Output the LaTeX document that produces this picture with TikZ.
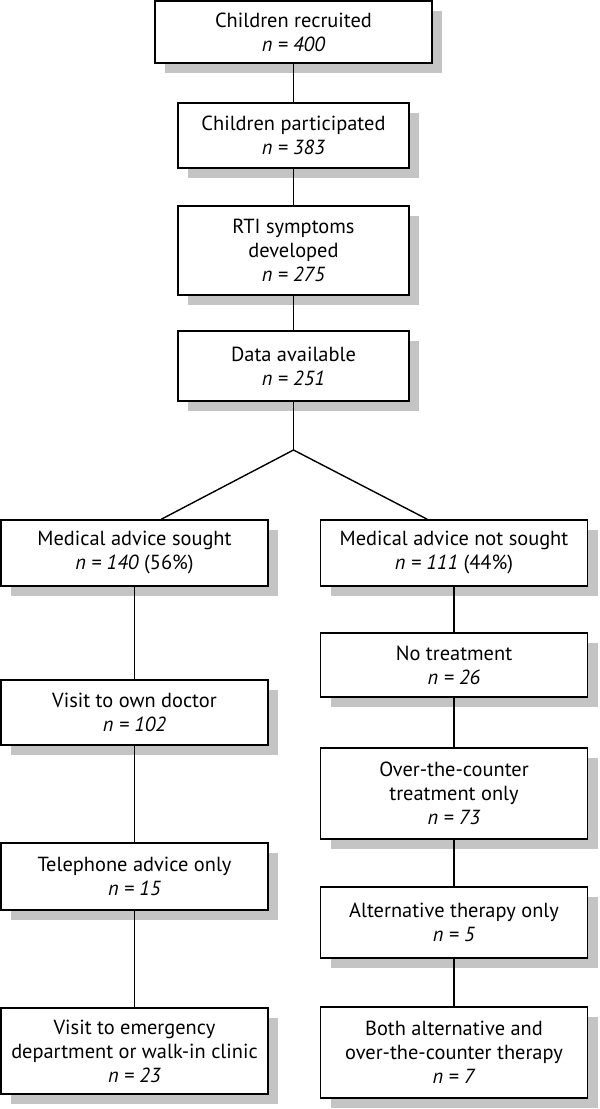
\documentclass[tikz,border=0pt]{standalone}
\usepackage{fontspec}
\setmainfont{PT Sans}
\usepackage{tikz}
\usetikzlibrary{positioning,calc,shadows}
\definecolor{shadowgrey}{RGB}{196,196,196}

\tikzset{
  flowbox/.style={draw,line width=0.8pt,fill=white,align=center,inner sep=2pt,
    font=\fontsize{10.2}{12}\selectfont,
    drop shadow={shadow xshift=5pt,shadow yshift=-5pt,fill=shadowgrey,opacity=1}},
  midbox/.style={flowbox,minimum width=115.5pt},
  sidebox/.style={flowbox,minimum width=133.5pt},
  link/.style={line width=0.7pt}
}

\begin{document}
\begin{tikzpicture}[x=0.5pt,y=-0.5pt]
  \useasboundingbox (0,0) rectangle (600,1109);

  % Main trunk: recruitment down to available data.
  \node[flowbox,minimum width=138.5pt,minimum height=31pt] (rec) at (293.5,32)
    {Children recruited\\\textit{n = 400}};
  \node[midbox,minimum height=32.5pt] (part) at (293.5,135.5)
    {Children participated\\\textit{n = 383}};
  \node[midbox,minimum height=44.5pt] (rti) at (293.5,250.5)
    {RTI symptoms\\developed\\\textit{n = 275}};
  \node[midbox,minimum height=35pt] (avail) at (293.5,366)
    {Data available\\\textit{n = 251}};

  % Split into the two branches.
  \coordinate (split) at (293.5,450);
  \node[sidebox,minimum height=33pt] (sought) at (134.5,553)
    {Medical advice sought\\\textit{n = 140} (56\%)};
  \node[sidebox,minimum height=33pt] (notsought) at (454,553)
    {Medical advice not sought\\\textit{n = 111} (44\%)};

  % Left branch: where advice was sought.
  \node[sidebox,minimum height=32.5pt] (own) at (134.5,712.5)
    {Visit to own doctor\\\textit{n = 102}};
  \node[sidebox,minimum height=33.5pt] (phone) at (134.5,876.5)
    {Telephone advice only\\\textit{n = 15}};
  \node[sidebox,minimum height=43pt] (emerg) at (134.5,1051)
    {Visit to emergency\\department or walk-in clinic\\\textit{n = 23}};

  % Right branch: treatment without advice.
  \node[sidebox,minimum height=32pt] (notreat) at (454,665)
    {No treatment\\\textit{n = 26}};
  \node[sidebox,minimum height=45.5pt] (otc) at (454,793.5)
    {Over-the-counter\\treatment only\\\textit{n = 73}};
  \node[sidebox,minimum height=35.5pt] (alt) at (454,922.5)
    {Alternative therapy only\\\textit{n = 5}};
  \node[sidebox,minimum height=45.5pt] (both) at (454,1052.5)
    {Both alternative and\\over-the-counter therapy\\\textit{n = 7}};

  \draw[link] (rec) -- (part);
  \draw[link] (part) -- (rti);
  \draw[link] (rti) -- (avail);
  \draw[link] (avail) -- (split);
  \draw[link] (split) -- ($(sought.north west)!0.6!(sought.north east)$);
  \draw[link] (split) -- ($(notsought.north west)!0.4!(notsought.north east)$);
  \draw[link] (sought) -- (own);
  \draw[link] (own) -- (phone);
  \draw[link] (phone) -- (emerg);
  \draw[link] (notsought) -- (notreat);
  \draw[link] (notreat) -- (otc);
  \draw[link] (otc) -- (alt);
  \draw[link] (alt) -- (both);
\end{tikzpicture}
\end{document}
